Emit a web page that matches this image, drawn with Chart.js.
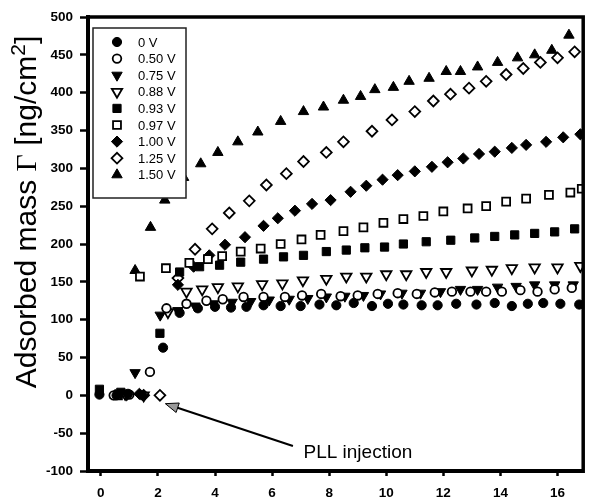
<!DOCTYPE html>
<html>
<head>
<meta charset="utf-8">
<script src="https://cdn.jsdelivr.net/npm/chart.js@4.4.0/dist/chart.umd.min.js"></script>
<style>
  html, body { margin: 0; padding: 0; background: #fff; }
</style>
</head>
<body>
<canvas id="qcm" width="591" height="500"></canvas>
<script>
// series names (applied potential)
const seriesNames = ['0 V', '0.50 V', '0.75 V', '0.88 V', '0.93 V', '0.97 V', '1.00 V', '1.25 V', '1.50 V'];

// time axis values and adsorbed mass for every series
const t000 = [-0.05, 0.55, 0.95, 1.45, 2.18, 2.76, 3.4, 4.0, 4.56, 5.1, 5.7, 6.3, 7.0, 7.66, 8.25, 8.86, 9.5, 10.06, 10.6, 11.24, 11.8, 12.45, 13.16, 13.8, 14.4, 14.96, 15.5, 16.1, 16.76];
const m000 = [1, 0, 2, 0, 63, 109, 115, 117, 116, 117, 119, 118, 118, 120, 119, 122, 118, 121, 120, 119, 119, 121, 120, 122, 118, 121, 122, 121, 120];

const t050 = [0.45, 1.0, 1.72, 2.3, 3.0, 3.7, 4.27, 5.0, 5.7, 6.45, 7.05, 7.72, 8.4, 9.0, 9.7, 10.4, 11.07, 11.7, 12.3, 12.95, 13.5, 14.05, 14.7, 15.3, 15.9, 16.5];
const m050 = [0, 1, 31, 115, 121, 125, 127, 130, 130, 130, 132, 134, 131, 132, 134, 135, 134, 136, 137, 137, 137, 137, 139, 137, 140, 142];

const t075 = [0.7, 1.2, 2.08, 2.7, 3.3, 3.95, 4.6, 5.25, 5.9, 6.6, 7.25, 7.9, 8.55, 9.2, 9.8, 10.55, 11.2, 11.9, 12.6, 13.2, 13.9, 14.55, 15.2, 15.9, 16.55];
const m075 = [3, 30, 106, 112, 118, 121, 123, 124, 126, 127, 128, 130, 131, 132, 134, 135, 135, 137, 140, 140, 143, 144, 146, 146, 146];

const t088 = [0.85, 1.5, 2.35, 3.0, 3.55, 4.1, 4.8, 5.65, 6.36, 7.08, 7.9, 8.6, 9.3, 10.0, 10.7, 11.4, 12.1, 13.0, 13.7, 14.4, 15.2, 16.0, 16.8];
const m088 = [2, 0, 110, 137, 140, 143, 144, 147, 148, 152, 154, 157, 157, 160, 160, 163, 163, 165, 166, 168, 169, 169, 171];

const t093 = [-0.05, 0.7, 2.07, 2.76, 3.46, 4.16, 4.9, 5.7, 6.4, 7.1, 7.9, 8.6, 9.25, 9.94, 10.6, 11.4, 12.26, 13.1, 13.8, 14.5, 15.2, 15.9, 16.6];
const m093 = [8, 4, 82, 163, 170, 172, 176, 180, 183, 185, 190, 192, 195, 196, 200, 203, 205, 208, 210, 212, 214, 216, 220];

const t097 = [0.6, 1.37, 2.28, 3.1, 3.75, 4.25, 4.9, 5.6, 6.3, 7.03, 7.7, 8.5, 9.2, 9.9, 10.6, 11.3, 12.0, 12.85, 13.5, 14.2, 14.9, 15.7, 16.45, 16.85];
const m097 = [0, 157, 168, 175, 180, 184, 190, 194, 200, 206, 212, 217, 222, 228, 233, 237, 243, 247, 250, 256, 260, 265, 268, 273];

const t100 = [0.9, 1.35, 2.7, 3.25, 3.8, 4.35, 5.05, 5.7, 6.2, 6.8, 7.4, 8.05, 8.75, 9.3, 9.87, 10.4, 11.0, 11.6, 12.15, 12.7, 13.25, 13.8, 14.4, 14.9, 15.6, 16.2, 16.8];
const m100 = [0, 2, 146, 170, 185, 199, 209, 224, 234, 244, 253, 258, 269, 277, 285, 291, 296, 302, 308, 313, 319, 322, 327, 331, 335, 341, 345];

const t125 = [1.5, 2.07, 2.7, 3.3, 3.9, 4.5, 5.2, 5.8, 6.5, 7.1, 7.9, 8.5, 9.5, 10.2, 11.0, 11.65, 12.25, 12.9, 13.5, 14.2, 14.8, 15.4, 16.0, 16.6];
const m125 = [0, 0, 155, 193, 220, 241, 257, 278, 293, 309, 321, 335, 349, 364, 375, 389, 398, 406, 415, 424, 432, 440, 446, 454];

const t150 = [0.5, 1.2, 1.74, 2.24, 2.9, 3.5, 4.1, 4.8, 5.5, 6.3, 7.1, 7.8, 8.5, 9.1, 9.6, 10.25, 10.8, 11.5, 12.1, 12.6, 13.2, 13.9, 14.6, 15.2, 15.8, 16.4];
const m150 = [0, 165, 222, 258, 288, 306, 321, 335, 348, 362, 375, 381, 390, 395, 404, 407, 415, 419, 428, 428, 434, 440, 446, 450, 456, 476];

const times = [t000, t050, t075, t088, t093, t097, t100, t125, t150];
const masses = [m000, m050, m075, m088, m093, m097, m100, m125, m150];

const xTicks = [0, 2, 4, 6, 8, 10, 12, 14, 16];
const yTicks = [-100, -50, 0, 50, 100, 150, 200, 250, 300, 350, 400, 450, 500];

// annotation: arrow tail / head and label position, in data units
const arrowTail = [6.73, -67];
const arrowHead = [2.26, -11];
const noteText = 'PLL injection';
const notePos = [7.1, -82.5];

// marker looks, same order as seriesNames
const markers = [
  { style: 'circle',   rot: 0,   r: 4.6, filled: true },
  { style: 'circle',   rot: 0,   r: 4.3, filled: false },
  { style: 'triangle', rot: 180, r: 6,   filled: true },
  { style: 'triangle', rot: 180, r: 6,   filled: false },
  { style: 'rect',     rot: 0,   r: 5.8, filled: true },
  { style: 'rect',     rot: 0,   r: 5.6, filled: false },
  { style: 'rectRot',  rot: 0,   r: 5.6, filled: true },
  { style: 'rectRot',  rot: 0,   r: 5.4, filled: false },
  { style: 'triangle', rot: 0,   r: 6,   filled: true }
];

const datasets = seriesNames.map((name, i) => ({
  label: name,
  data: times[i].map((t, j) => ({ x: t, y: masses[i][j] })),
  pointStyle: markers[i].style,
  rotation: markers[i].rot,
  pointRadius: markers[i].r,
  pointBackgroundColor: markers[i].filled ? '#000' : '#fff',
  pointBorderColor: '#000',
  pointBorderWidth: markers[i].filled ? 1 : 1.8,
  showLine: false
}));

function drawMarker(ctx, m, x, y) {
  ctx.fillStyle = m.filled ? '#000' : '#fff';
  ctx.strokeStyle = '#000';
  ctx.lineWidth = m.filled ? 1 : 1.8;
  Chart.helpers.drawPoint(ctx, { pointStyle: m.style, rotation: m.rot, radius: m.r, borderWidth: ctx.lineWidth }, x, y);
}

const decorations = {
  id: 'decorations',
  afterDatasetsDraw(chart) {
    const { ctx, chartArea: a, scales: { x, y } } = chart;
    ctx.save();

    // top and right frame
    ctx.strokeStyle = '#000';
    ctx.lineWidth = 3.5;
    ctx.beginPath();
    ctx.moveTo(a.left - 2, a.top);
    ctx.lineTo(a.right, a.top);
    ctx.lineTo(a.right, a.bottom + 2);
    ctx.stroke();

    // legend box
    const lx = 93, ly = 28, lw = 93, lh = 170;
    ctx.fillStyle = '#fff';
    ctx.fillRect(lx, ly, lw, lh);
    ctx.lineWidth = 1.5;
    ctx.strokeStyle = '#222';
    ctx.strokeRect(lx, ly, lw, lh);
    ctx.font = '13px "Liberation Sans", Arial, sans-serif';
    ctx.textBaseline = 'middle';
    ctx.textAlign = 'left';
    seriesNames.forEach((name, i) => {
      const ry = 42 + i * 16.6;
      drawMarker(ctx, markers[i], 117, ry);
      ctx.fillStyle = '#000';
      ctx.fillText(name, 138, ry + 1);
    });

    // arrow
    const tx = x.getPixelForValue(arrowTail[0]), ty = y.getPixelForValue(arrowTail[1]);
    const hx = x.getPixelForValue(arrowHead[0]), hy = y.getPixelForValue(arrowHead[1]);
    const ang = Math.atan2(hy - ty, hx - tx);
    ctx.strokeStyle = '#000';
    ctx.lineWidth = 2;
    ctx.beginPath();
    ctx.moveTo(tx, ty);
    ctx.lineTo(hx - 8 * Math.cos(ang), hy - 8 * Math.sin(ang));
    ctx.stroke();
    ctx.beginPath();
    ctx.moveTo(hx, hy);
    ctx.lineTo(hx - 13 * Math.cos(ang) + 5 * Math.sin(ang), hy - 13 * Math.sin(ang) - 5 * Math.cos(ang));
    ctx.lineTo(hx - 13 * Math.cos(ang) - 5 * Math.sin(ang), hy - 13 * Math.sin(ang) + 5 * Math.cos(ang));
    ctx.closePath();
    ctx.fillStyle = '#999';
    ctx.fill();
    ctx.lineWidth = 1;
    ctx.stroke();

    ctx.fillStyle = '#000';
    ctx.font = '19px "Liberation Sans", Arial, sans-serif';
    ctx.textBaseline = 'alphabetic';
    ctx.fillText(noteText, x.getPixelForValue(notePos[0]), y.getPixelForValue(notePos[1]));

    // y axis title with serif Gamma and superscript
    const parts = [
      { s: 'Adsorbed mass ', f: '30px "Liberation Sans", Arial, sans-serif', dy: 0 },
      { s: '\u0393', f: '30px "Liberation Serif", serif', dy: 0 },
      { s: ' [ng/cm', f: '30px "Liberation Sans", Arial, sans-serif', dy: 0 },
      { s: '2', f: '21px "Liberation Sans", Arial, sans-serif', dy: -11 },
      { s: ']', f: '30px "Liberation Sans", Arial, sans-serif', dy: 0 }
    ];
    let total = 0;
    parts.forEach(p => { ctx.font = p.f; p.w = ctx.measureText(p.s).width; total += p.w; });
    ctx.translate(36, 212);
    ctx.rotate(-Math.PI / 2);
    let cx = -total / 2;
    parts.forEach(p => {
      ctx.font = p.f;
      ctx.fillText(p.s, cx, p.dy);
      cx += p.w;
    });

    ctx.restore();
  }
};

new Chart(document.getElementById('qcm'), {
  type: 'scatter',
  data: { datasets },
  options: {
    responsive: false,
    animation: false,
    devicePixelRatio: 1,
    layout: { padding: { top: 17, right: 5, left: 0, bottom: 0 } },
    plugins: { legend: { display: false }, tooltip: { enabled: false } },
    scales: {
      x: {
        type: 'linear',
        min: -0.45,
        max: 16.9,
        afterFit: s => { s.height = 29; },
        afterBuildTicks: s => { s.ticks = xTicks.map(v => ({ value: v })); },
        border: { display: true, width: 4, color: '#000' },
        grid: { drawOnChartArea: false, drawTicks: true, tickLength: 5, tickWidth: 2.5, tickColor: '#000' },
        ticks: {
          color: '#000',
          padding: 9,
          font: { family: '"Liberation Sans", Arial, sans-serif', size: 13.5, weight: 'bold' },
          callback: v => String(v)
        }
      },
      y: {
        type: 'linear',
        min: -100,
        max: 500,
        afterFit: s => { s.width = 88; },
        afterBuildTicks: s => { s.ticks = yTicks.map(v => ({ value: v })); },
        border: { display: true, width: 4, color: '#000' },
        grid: { drawOnChartArea: false, drawTicks: true, tickLength: 8, tickWidth: 2.5, tickColor: '#000' },
        ticks: {
          color: '#000',
          padding: 7,
          font: { family: '"Liberation Sans", Arial, sans-serif', size: 13.5, weight: 'bold' },
          callback: v => String(v)
        }
      }
    }
  },
  plugins: [decorations]
});
</script>
</body>
</html>
